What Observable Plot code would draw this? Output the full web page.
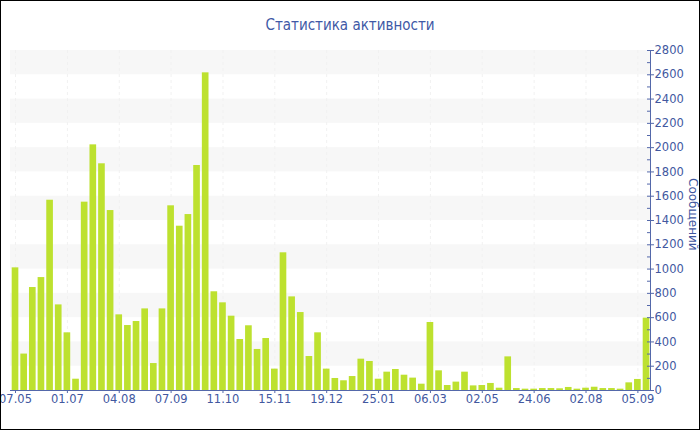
<!DOCTYPE html>
<html><head><meta charset="utf-8">
<script src="https://cdn.jsdelivr.net/npm/d3@7"></script>
<script src="https://cdn.jsdelivr.net/npm/@observablehq/plot@0.6"></script>
<style>
body{margin:0;background:#fff}
#wrap{position:relative;width:700px;height:430px;overflow:hidden;font-family:"DejaVu Sans",sans-serif;background:#fff}
#border{position:absolute;left:0;top:0;width:700px;height:430px;box-sizing:border-box;border:1px solid #000;pointer-events:none}
#title{position:absolute;top:14px;left:0;width:700px;text-align:center;font-size:15px;font-stretch:condensed;font-family:"DejaVu Sans Condensed","DejaVu Sans",sans-serif;color:#4059a6;line-height:22px}
#chart{position:absolute;top:40px;left:0}
#ylab{position:absolute;left:686px;top:178px;writing-mode:vertical-rl;font-size:12px;color:#42589f;line-height:14px;white-space:nowrap}
</style>
</head><body>
<div id="wrap"><div id="title">Статистика активности</div><div id="chart"></div><div id="ylab"></div><div id="border"></div></div>
<script>
const values = [1010, 300, 848, 930, 1567, 705, 475, 93, 1551, 2023, 1867, 1482,
  623, 535, 568, 672, 222, 672, 1521, 1353, 1449, 1853, 2616, 813,
  722, 612, 420, 533, 338, 428, 176, 1134, 771, 642, 280, 475,
  176, 99, 80, 115, 258, 239, 93, 151, 173, 126, 102, 52,
  560, 162, 41, 69, 151, 38, 41, 58, 19, 277, 16, 11,
  11, 16, 16, 14, 25, 11, 19, 27, 16, 16, 11, 63,
  91, 596];
const tickLabels = ["07.05","01.07","04.08","07.09","11.10","15.11","19.12","25.01","06.03","02.05","24.06","02.08","05.09"];
const labelEvery = 6;
const yTicks = [0,200,400,600,800,1000,1200,1400,1600,1800,2000,2200,2400,2600,2800];
const yLabel = "Сообщений";

document.getElementById("ylab").textContent = yLabel;
const data = values.map((v, i) => ({i, v}));
const tickIdx = tickLabels.map((_, k) => k * labelEvery);
const minorTicks = yTicks.slice(0, -1).map((t, k) => (t + yTicks[k + 1]) / 2);
const bands = yTicks.filter((t, k) => k % 2 === 1 && k < yTicks.length - 1).map(t => ({y1: t, y2: t + 200}));
const xMin = -0.58, xMax = values.length - 1 + 0.46;
const half = 0.385;
const axisColor = "#5468aa";
const textColor = "#42589f";

const chart = Plot.plot({
  width: 700,
  height: 380,
  marginTop: 10,
  marginBottom: 30,
  marginLeft: 10,
  marginRight: 50,
  style: {fontFamily: "DejaVu Sans", fontSize: "11.5px", color: textColor, background: "transparent"},
  x: {type: "linear", domain: [xMin, xMax], axis: null},
  y: {domain: [0, 2800], axis: null},
  marks: [
    Plot.rect(bands, {y1: "y1", y2: "y2", fill: "#f7f7f7"}),
    Plot.ruleX(tickIdx, {x: d => d, stroke: "#f1f1f1", strokeDasharray: "3,3"}),
    Plot.rect(data, {x1: d => d.i - half, x2: d => d.i + half, y1: 0, y2: "v", fill: "#bde12f"}),
    Plot.ruleY([0], {stroke: axisColor}),
    Plot.ruleX([xMax], {stroke: axisColor}),
    Plot.axisX(tickIdx, {tickFormat: i => tickLabels[i / labelEvery], tickSize: 3, tickPadding: 1, stroke: axisColor}),
    Plot.axisY(yTicks, {anchor: "right", tickSize: 3, tickPadding: 1, tickFormat: d => String(d), stroke: axisColor}),
    Plot.axisY(yTicks.concat(minorTicks), {anchor: "right", tickSize: 4, dx: -4, text: null, stroke: axisColor})
  ]
});
document.getElementById("chart").appendChild(chart);
</script>
</body></html>
